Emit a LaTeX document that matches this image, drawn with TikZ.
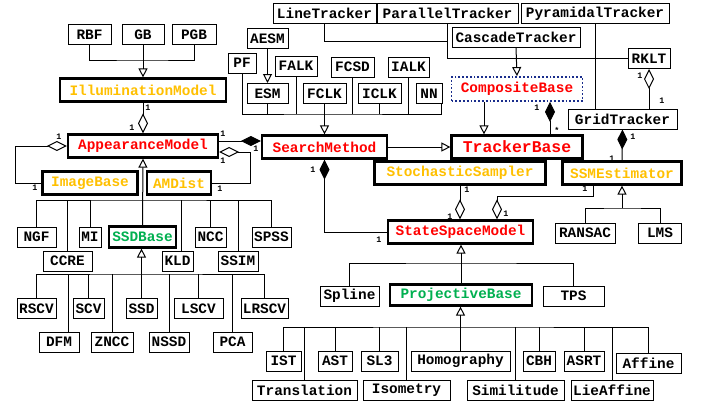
\documentclass[tikz,border=0pt]{standalone}
\usepackage{fontspec}
\setmonofont{Liberation Mono}
\usetikzlibrary{positioning,calc,arrows.meta}

\definecolor{amber}{RGB}{255,192,0}
\definecolor{mtfgreen}{RGB}{0,176,80}
\definecolor{navy}{RGB}{25,45,140}
\newcommand{\clsfont}{\ttfamily\bfseries\fontsize{7.2}{8}\selectfont}
\newcommand{\bigclsfont}{\ttfamily\bfseries\fontsize{8.2}{9}\selectfont}
\newcommand{\multfont}{\ttfamily\bfseries\fontsize{4.2}{5}\selectfont}

\begin{document}
\begin{tikzpicture}[x=0.5pt, y=-0.5pt, line width=0.5pt,
  cls/.style={draw, fill=white, font=\clsfont, inner sep=0pt, minimum height=10pt, minimum width=#1*0.5pt},
  keycls/.style={cls=#1, line width=1.1pt, minimum height=11.5pt},
  inh/.style={-{Triangle[open, length=4.5pt, width=4.5pt]}},
  agg/.style={-{Diamond[open, length=10pt, width=5pt]}},
  comp/.style={-{Diamond[length=10pt, width=5pt]}},
  mult/.style={font=\multfont, inner sep=0pt}]
  \useasboundingbox (0,0) rectangle (702,408);

  % illumination
  \node[cls=43] (rbf) at (89.5,34.5) {RBF};
  \node[cls=42] (gb) at (143,34.5) {GB};
  \node[cls=44] (pgb) at (194,34.5) {PGB};
  \node[keycls=166, text=amber] (illum) at (143,90) {IlluminationModel};
  \coordinate (ilbus) at (143,60);
  \draw (rbf.south) |- (ilbus) -| (pgb.south);
  \draw[inh] (gb.south) -- (illum.north);

  % appearance model
  \node[keycls=150, text=red] (appm) at (143,146) {AppearanceModel};
  \node[keycls=95, text=amber] (imgb) at (90,183) {ImageBase};
  \node[keycls=64, text=amber] (amdist) at (179,183) {AMDist};
  \draw[agg] (illum.south) -- (appm.north);
  \draw[agg] (imgb.west) -- ++(-26,0) |- (appm.west);
  \draw[agg] (amdist.east) -- ++(38,0) |- ($(appm.east)+(0,6)$);

  \node[cls=39] (ngf) at (36.5,237) {NGF};
  \node[cls=22] (mi) at (90,237) {MI};
  \node[keycls=67, text=mtfgreen, minimum height=10.5pt] (ssdb) at (142.5,237) {SSDBase};
  \node[cls=31] (ncc) at (210.5,237) {NCC};
  \node[cls=39] (spss) at (271.5,237) {SPSS};
  \node[cls=49] (ccre) at (67.5,261) {CCRE};
  \node[cls=31] (kld) at (177.5,261) {KLD};
  \node[cls=40] (ssim) at (238,261) {SSIM};
  \coordinate (ambus) at (143,200);
  \draw (ngf.north) |- (ambus) -| (spss.north);
  \foreach \n in {ccre,mi,ncc,ssim}
    \draw (\n.north) -- (\n.north |- ambus);
  \draw ($(kld.north)+(3.5,0)$) -- ($(kld.north |- ambus)+(3.5,0)$);
  \draw[inh] (ssdb.north) -- (appm.south);

  % ssd family
  \node[cls=39] (rscv) at (36.5,308.5) {RSCV};
  \node[cls=31] (scv) at (88.5,308.5) {SCV};
  \node[cls=31] (ssd) at (141.5,308.5) {SSD};
  \node[cls=49] (lscv) at (198.5,308.5) {LSCV};
  \node[cls=47] (lrscv) at (264.5,308.5) {LRSCV};
  \node[cls=40] (dfm) at (59,342) {DFM};
  \node[cls=42] (zncc) at (112,342) {ZNCC};
  \node[cls=40] (nssd) at (169,342) {NSSD};
  \node[cls=39] (pca) at (232.5,342) {PCA};
  \coordinate (sdbus) at (142,274);
  \draw (rscv.north) |- (sdbus) -| (lrscv.north);
  \foreach \n in {scv,zncc,nssd,lscv,pca}
    \draw (\n.north) -- (\n.north |- sdbus);
  \draw ($(dfm.north)+(9,0)$) -- ($(dfm.north |- sdbus)+(9,0)$);
  \draw[inh] (ssd.north) -- (ssd.north |- ssdb.south);

  % trackers
  \node[cls=103] (linet) at (324.5,13.5) {LineTracker};
  \node[cls=141] (part) at (447.5,13.5) {ParallelTracker};
  \node[cls=148] (pyrt) at (595,13.5) {PyramidalTracker};
  \node[cls=128] (cast) at (516,37) {CascadeTracker};
  \node[cls=42] (rklt) at (649,58.5) {RKLT};
  \node[cls=109] (gridt) at (622.5,119) {GridTracker};
  \node[draw=navy, densely dotted, line width=0.9pt, font=\clsfont, text=red, inner sep=0pt,
    minimum height=12pt, minimum width=131*0.5pt] (compb) at (517,89) {CompositeBase};
  \node[keycls=131, text=red, font=\bigclsfont] (trackb) at (517,147) {TrackerBase};
  \draw (linet.south) |- ($(part.south)+(0,17)$);
  \draw (part.south) |- (rklt.west);
  \draw (pyrt.south) -- (pyrt.south |- gridt.north);
  \draw[inh] (cast.south) -- (compb.north);
  \draw[inh] ($(compb.south)+(-33,0)$) -- ($(trackb.north)+(-33,0)$);
  \draw[comp] ($(trackb.north)+(33,0)$) -- ($(compb.south)+(33,0)$);
  \draw[agg] (gridt.north -| rklt.south) -- (rklt.south);

  % search methods
  \node[cls=41] (aesm) at (267.5,38.5) {AESM};
  \node[cls=28] (pf) at (242,63) {PF};
  \node[cls=42] (falk) at (296,66) {FALK};
  \node[cls=43] (fcsd) at (352.5,67) {FCSD};
  \node[cls=41] (ialk) at (408.5,67) {IALK};
  \node[cls=41] (esm) at (267.5,93.5) {ESM};
  \node[cls=43] (fclk) at (324.5,93.5) {FCLK};
  \node[cls=43] (iclk) at (379.5,93.5) {ICLK};
  \node[cls=26] (nn) at (429,93.5) {NN};
  \node[keycls=125, text=red] (search) at (324.5,147) {SearchMethod};
  \coordinate (smbus) at (324.5,114);
  \draw[inh] (aesm.south) -- (esm.north);
  \draw (pf.south) |- (smbus) -| ($(nn.south east)+(-1,0)$);
  \foreach \n in {esm,falk,fcsd,iclk,ialk}
    \draw (\n.south) -- (\n.south |- smbus);
  \draw[inh] (fclk.south) -- (search.north);
  \draw[comp] ($(appm.east)+(0,-5)$) -- ($(search.west)+(0,-6)$);
  \draw[inh] (search.east) -- (trackb.west);

  % state space
  \node[keycls=171, text=amber] (stoch) at (460,173) {StochasticSampler};
  \node[keycls=119, text=amber] (ssme) at (622,173) {SSMEstimator};
  \node[cls=60] (ransac) at (585,233) {RANSAC};
  \node[cls=43] (lms) at (660,233) {LMS};
  \node[keycls=145, text=red] (ssm) at (460.5,232) {StateSpaceModel};
  \coordinate (esbus) at (622,208);
  \draw (ransac.north) |- (esbus) -| (lms.north);
  \draw[inh] (esbus) -- (ssme.south);
  \draw[comp] (ssme.north) -- (gridt.south);
  \draw[comp] (ssm.west) -| (search.south);
  \draw[agg] (stoch.south) -- (ssm.north -| stoch.south);
  \draw[agg] ($(ssme.south)+(-29,0)$) -- ++(0,11) -| ($(ssm.north)+(36.5,0)$);

  \node[cls=59] (spline) at (349.5,296) {Spline};
  \node[keycls=142, text=mtfgreen, minimum height=10.5pt] (projb) at (461,295) {ProjectiveBase};
  \node[cls=61] (tps) at (573.5,296) {TPS};
  \coordinate (ssbus) at (461,263);
  \draw (spline.north) |- (ssbus) -| (tps.north);
  \draw[inh] (projb.north) -- (projb.north |- ssm.south);

  % projective family
  \node[cls=35] (ist) at (283.5,361) {IST};
  \node[cls=34] (ast) at (335,361) {AST};
  \node[cls=37] (sl3) at (379.5,361) {SL3};
  \node[cls=99] (homog) at (460.5,361) {Homography};
  \node[cls=32] (cbh) at (539,361) {CBH};
  \node[cls=40] (asrt) at (584,361) {ASRT};
  \node[cls=65] (affine) at (648.5,363) {Affine};
  \node[cls=105] (transl) at (304.5,390.5) {Translation};
  \node[cls=87] (isom) at (406.5,390.5) {Isometry};
  \node[cls=97] (simil) at (515.5,390.5) {Similitude};
  \node[cls=82] (lieaff) at (612,390.5) {LieAffine};
  \coordinate (pbus) at (461,327);
  \draw (ist.north) |- (pbus) -| (affine.north);
  \foreach \n in {transl,ast,sl3,isom,simil,cbh,asrt,lieaff}
    \draw (\n.north) -- (\n.north |- pbus);
  \draw[inh] (homog.north) -- (homog.north |- projb.south);

  % multiplicities
  \node[mult] (m1) at (148,108) {1};
  \node[mult] (m2) at (132,128) {1};
  \node[mult] (m3) at (59,137) {1};
  \node[mult] (m4) at (35,188) {1};
  \node[mult] (m5) at (223,161) {1};
  \node[mult] (m6) at (220,189) {1};
  \node[mult] (m7) at (223,134) {1};
  \node[mult] (m8) at (256,149) {1};
  \node[mult] (m9) at (313,170) {1};
  \node[mult] (m10) at (379,240) {1};
  \node[mult] (m11) at (467,190) {1};
  \node[mult] (m12) at (450,217) {1};
  \node[mult] (m13) at (585,189) {1};
  \node[mult] (m14) at (506,214) {1};
  \node[mult] (m15) at (633,137) {1};
  \node[mult] (m16) at (612,159) {1};
  \node[mult] (m17) at (640,76) {1};
  \node[mult] (m18) at (662,101) {1};
  \node[mult] (m19) at (537,108) {1};
  \node[mult] (m20) at (557,130) {*};
\end{tikzpicture}
\end{document}
